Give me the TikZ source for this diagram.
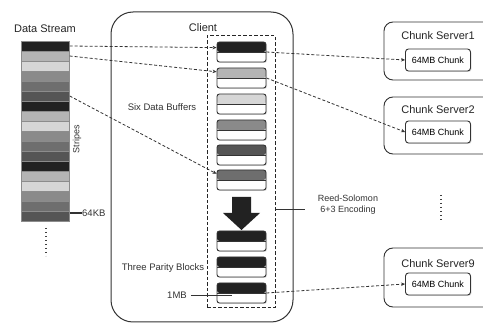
\documentclass[tikz,border=0pt]{standalone}
\usepackage{fontspec}
\setmainfont{Liberation Sans}
\usetikzlibrary{shadows,arrows.meta}
\definecolor{cA}{HTML}{222222}
\definecolor{cB}{HTML}{B4B4B4}
\definecolor{cC}{HTML}{D6D6D6}
\definecolor{cD}{HTML}{8A8A8A}
\definecolor{cE}{HTML}{6E6E6E}
\definecolor{cF}{HTML}{555555}
\definecolor{lc}{HTML}{333333}
\tikzset{
  stripe/.style={draw=black!45, line width=0.4pt, fill=#1, minimum width=48pt, minimum height=10pt, inner sep=0pt},
  buf/.style={draw=lc, line width=0.9pt, rounded corners=2.5pt, minimum width=49pt, minimum height=20pt, inner sep=0pt, fill=white,
    drop shadow={opacity=0.25, shadow xshift=1pt, shadow yshift=-1pt},
    path picture={\fill[#1] (path picture bounding box.north west) rectangle (path picture bounding box.east);
                  \draw[lc, line width=0.6pt] (path picture bounding box.west) -- (path picture bounding box.east);}},
  srv/.style={draw=lc, line width=0.9pt, rounded corners=9pt, inner sep=0pt},
  chunkbox/.style={draw=lc, line width=0.9pt, rounded corners=3pt, minimum width=65pt, minimum height=22pt, inner sep=0pt, fill=white,
    drop shadow={opacity=0.25, shadow xshift=1pt, shadow yshift=-1pt}, font=\fontsize{9}{10}\selectfont},
  dlink/.style={draw=black!80, line width=0.8pt, dash pattern=on 3pt off 2pt, -{Stealth[length=4pt,width=3.5pt]}},
  lbl/.style={inner sep=0pt, font=\fontsize{9.5}{11}\selectfont, text=black!80},
  big/.style={inner sep=0pt, font=\fontsize{11}{13}\selectfont, text=black!85},
  vdots/.style={draw=black!75, line width=1.3pt, dash pattern=on 1.3pt off 2.7pt}
}
\begin{document}
\begin{tikzpicture}[x=1pt,y=-1pt]
\clip (0,0) rectangle (483,326);
\fill[white] (0,0) rectangle (483,326);

% Data stream
\node[big] (ds) at (45,29) {Data Stream};
\foreach \i/\c in {1/cA,2/cB,3/cC,4/cD,5/cE,6/cF,7/cA,8/cB,9/cC,10/cD,11/cE,12/cF,13/cA,14/cB,15/cC,16/cD,17/cE,18/cF}{
  \node[stripe=\c] (s\i) at (45.5,{46+10*(\i-1)}) {};
}
\node[lbl, rotate=90, font=\fontsize{9}{10}\selectfont] (stripes) at (77,139) {Stripes};
\node[lbl, anchor=west] (kb) at (82,213) {64KB};
\draw[lc, line width=1.2pt] (s17.east |- kb) -- (kb.west);
\coordinate (dsA) at (46,228);
\coordinate (dsB) at (46,256);
\draw[vdots] (dsA) -- (dsB);

% Client
\draw[lc, line width=1pt, rounded corners=22pt] (111,12) rectangle (293,322);
\node[big] (client) at (203,28) {Client};
\node[draw=black!85, line width=1pt, dash pattern=on 3.5pt off 2pt, minimum width=68pt, minimum height=272pt, inner sep=0pt] (grp) at (241,172) {};

\node[buf=cA] (b1) at (241.5,52) {};
\node[buf=cB] (b2) at (241.5,78) {};
\node[buf=cC] (b3) at (241.5,104) {};
\node[buf=cD] (b4) at (241.5,130) {};
\node[buf=cF] (b5) at (241.5,155) {};
\node[buf=cE] (b6) at (241.5,180) {};

\fill[cA] (232,197) -- (251,197) -- (251,213) -- (260,213) -- (241.5,230) -- (223,213) -- (232,213) -- cycle;

\node[buf=cA] (p1) at (241.5,241) {};
\node[buf=cA] (p2) at (241.5,267) {};
\node[buf=cA] (p3) at (241.5,293) {};

\node[lbl] (six) at (162,107) {Six Data Buffers};
\node[lbl] (three) at (163,268) {Three Parity Blocks};
\node[lbl] (mb) at (177,295) {1MB};
\coordinate (mbEnd) at (232,295);
\draw[lc, line width=0.9pt] (mb.east) ++(4,0) -- (mbEnd);

% Reed-Solomon
\coordinate (rsl) at (305,209);
\draw[lc, line width=0.9pt] (grp.east |- rsl) -- (rsl);
\node[lbl, align=center, font=\fontsize{9}{11}\selectfont] (rs) at (348,205) {Reed-Solomon\\6+3 Encoding};

% Chunk servers
\draw[srv] (384,22) rectangle (500,80);
\node[big] (cs1t) at (438,36) {Chunk Server1};
\node[chunkbox] (c1) at (438,60) {64MB Chunk};

\draw[srv] (384,97) rectangle (500,154);
\node[big] (cs2t) at (438,110) {Chunk Server2};
\node[chunkbox] (c2) at (438,132) {64MB Chunk};

\draw[srv] (384,248) rectangle (500,307);
\node[big] (cs9t) at (438,264) {Chunk Server9};
\node[chunkbox] (c9) at (438,284) {64MB Chunk};

\coordinate (vdA) at (441,195);
\coordinate (vdB) at (441,222);
\draw[vdots] (vdA) -- (vdB);

% Dashed connectors
\draw[dlink] (s1.east) -- (b1.170);
\draw[dlink] (s2.east) -- (b2.166);
\draw[dlink] (s6.east) -- (b6.166);
\draw[dlink] (b1.east) -- (c1.west);
\draw[dlink] (b2.east) -- (c2.west);
\draw[dlink] (p3.east) -- (c9.west);
\end{tikzpicture}
\end{document}
